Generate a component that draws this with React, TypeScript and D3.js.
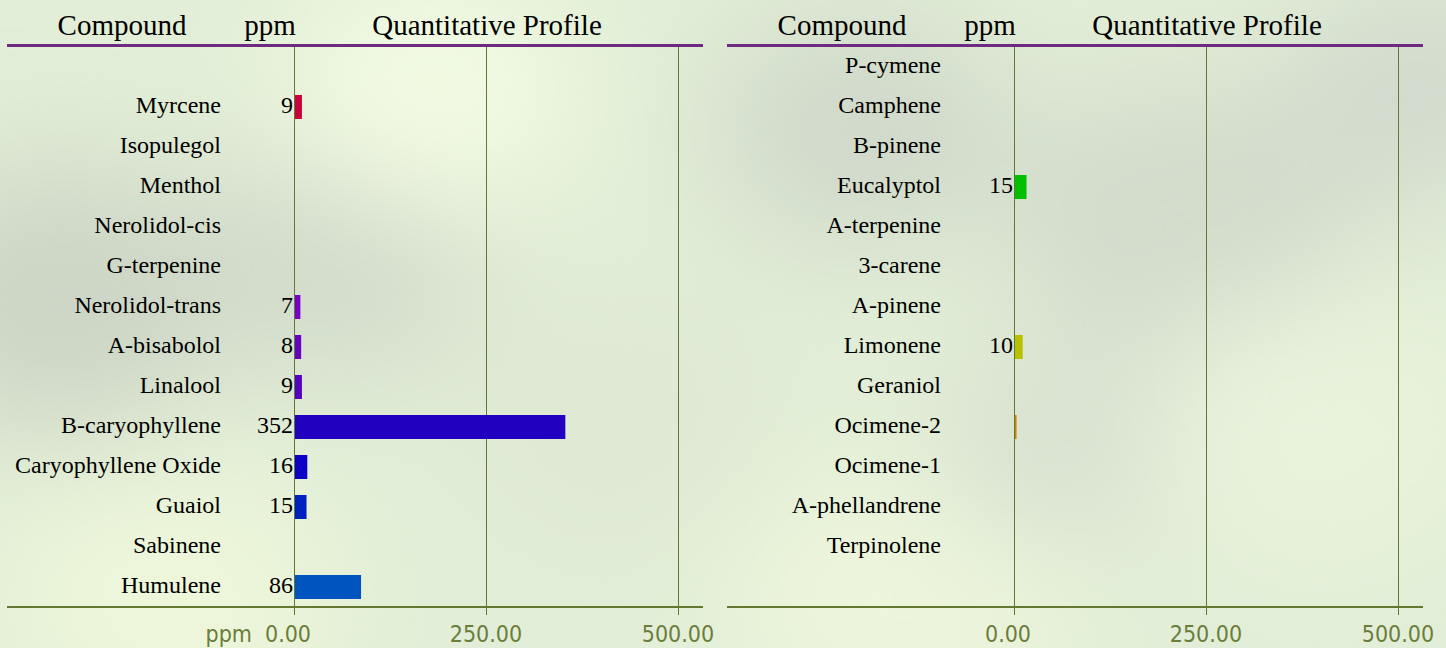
import React from "react";
import * as d3 from "d3";

// left column, top to bottom ("" = empty slot)
const leftCompounds = ["", "Myrcene", "Isopulegol", "Menthol", "Nerolidol-cis", "G-terpenine", "Nerolidol-trans", "A-bisabolol", "Linalool", "B-caryophyllene", "Caryophyllene Oxide", "Guaiol", "Sabinene", "Humulene"];
const leftPpm = [0, 9, 0, 0, 0, 0, 7, 8, 9, 352, 16, 15, 0, 86];
const leftColors = ["", "#c8003c", "", "", "", "", "#7a00c8", "#6800c4", "#5600c0", "#2200c0", "#0c00c4", "#0020c0", "", "#0054c0"];

const rightCompounds = ["P-cymene", "Camphene", "B-pinene", "Eucalyptol", "A-terpenine", "3-carene", "A-pinene", "Limonene", "Geraniol", "Ocimene-2", "Ocimene-1", "A-phellandrene", "Terpinolene", ""];
const rightPpm = [0, 0, 0, 15, 0, 0, 0, 10, 0, 2, 0, 0, 0, 0];
const rightColors = ["", "", "", "#00c000", "", "", "", "#b8c000", "", "#d08000", "", "", "", ""];

const ticks = [0, 250, 500];

const W = 1446;
const H = 648;
const serif = "'Liberation Serif', 'Times New Roman', serif";
const sans = "'DejaVu Sans Condensed', 'DejaVu Sans', sans-serif";
const olive = "#63792f";
const tickColor = "#6b7d3b";

const blobs = [
  { x: 60, y: 300, r: 170, c: "#cdd6c6" },
  { x: 330, y: 260, r: 150, c: "#d2dbcb" },
  { x: 430, y: 90, r: 150, c: "#f2fae2" },
  { x: 170, y: 600, r: 160, c: "#eef7da" },
  { x: 620, y: 420, r: 160, c: "#dfe9d4" },
  { x: 860, y: 130, r: 150, c: "#d0d9ca" },
  { x: 1180, y: 220, r: 180, c: "#d3dccc" },
  { x: 1420, y: 90, r: 140, c: "#d2dacd" },
  { x: 900, y: 600, r: 170, c: "#edf6dc" },
  { x: 1320, y: 430, r: 170, c: "#e9f3dc" },
  { x: 1050, y: 450, r: 120, c: "#d8e1d0" },
];

function Panel({ x0, names, values, colors, showPpmLabel }: { x0: number; names: string[]; values: number[]; colors: string[]; showPpmLabel: boolean }) {
  const x = d3.scaleLinear().domain([0, 500]).range([x0 + 287, x0 + 671]);
  const y = d3.scaleBand<number>().domain(d3.range(names.length)).range([47, 607]).paddingInner(0.4).paddingOuter(0.2);
  const left = x0;
  const right = x0 + 696;
  return (
    <g>
      <text x={x0 + 115} y={35} fontFamily={serif} fontSize={29} textAnchor="middle" fill="#000">Compound</text>
      <text x={x0 + 263} y={35} fontFamily={serif} fontSize={29} textAnchor="middle" fill="#000">ppm</text>
      <text x={x0 + 480} y={35} fontFamily={serif} fontSize={29} textAnchor="middle" fill="#000">Quantitative Profile</text>
      {ticks.map((t) => (
        <line key={t} x1={x(t) + 0.5} x2={x(t) + 0.5} y1={47} y2={615} stroke={olive} strokeWidth={1} />
      ))}
      <line x1={left} x2={right} y1={45.5} y2={45.5} stroke="#6e2a80" strokeWidth={3} />
      <line x1={left} x2={right} y1={607} y2={607} stroke={olive} strokeWidth={2} />
      {names.map((n, i) => (
        <g key={i}>
          <text x={x0 + 214} y={y(i)! + y.bandwidth() / 2 + 6} fontFamily={serif} fontSize={24} textAnchor="end" fill="#000">{n}</text>
          {values[i] > 0 && (
            <rect x={x(0) + 1} y={y(i)!} width={x(values[i]) - x(0)} height={y.bandwidth()} fill={colors[i]} />
          )}
          {values[i] >= 5 && (
            <text x={x(0) - 1} y={y(i)! + y.bandwidth() / 2 + 6} fontFamily={serif} fontSize={24} textAnchor="end" fill="#000">{values[i]}</text>
          )}
        </g>
      ))}
      {ticks.map((t, i) => (
        <text key={t} x={x(t) + (i === 0 ? -6 : 0)} y={642} fontFamily={sans} fontSize={23} textAnchor="middle" fill={tickColor}>{t.toFixed(2)}</text>
      ))}
      {showPpmLabel && (
        <text x={x(0) - 42} y={642} fontFamily={sans} fontSize={23} textAnchor="end" fill={tickColor}>ppm</text>
      )}
    </g>
  );
}

export default function App() {
  return (
    <svg width={W} height={H} style={{ position: "absolute", left: 0, top: 0 }}>
      <defs>
        <filter id="blur" x="-50%" y="-50%" width="200%" height="200%">
          <feGaussianBlur stdDeviation={60} />
        </filter>
      </defs>
      <rect width={W} height={H} fill="#e2eed7" />
      <g filter="url(#blur)">
        {blobs.map((b, i) => (
          <ellipse key={i} cx={b.x} cy={b.y} rx={b.r} ry={b.r * 0.8} fill={b.c} />
        ))}
      </g>
      <Panel x0={7} names={leftCompounds} values={leftPpm} colors={leftColors} showPpmLabel={true} />
      <Panel x0={727} names={rightCompounds} values={rightPpm} colors={rightColors} showPpmLabel={false} />
    </svg>
  );
}
